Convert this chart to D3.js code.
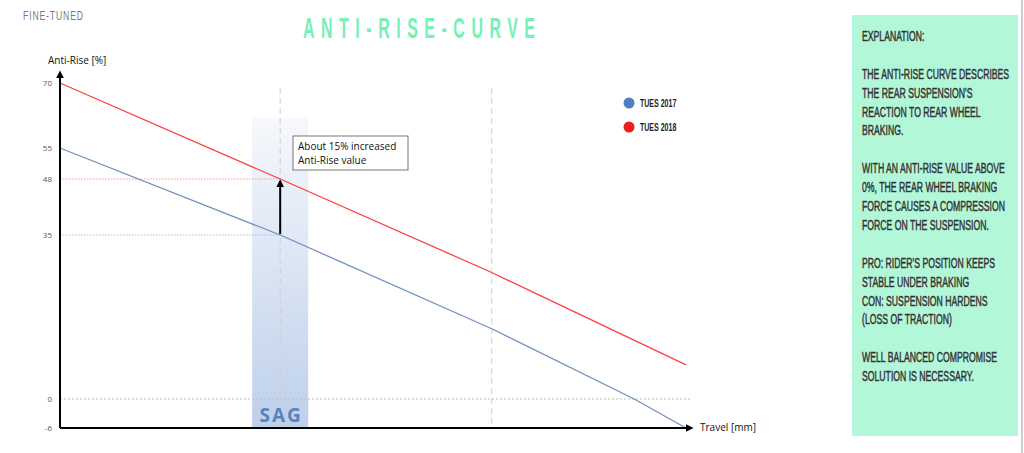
<!DOCTYPE html>
<html>
<head>
<meta charset="utf-8">
<style>
    body { margin: 0; background: #fff; }
    svg { display: block; }
    .cond { font-family: "Liberation Sans", Arial, sans-serif; }
    .plain { font-family: "Open Sans", "Liberation Sans", sans-serif; }
</style>
</head>
<body>
<svg id="chart" width="1024" height="453"></svg>

<script src="https://d3js.org/d3.v7.min.js"></script>
<script>
    // travel [mm] vs anti-rise [%]
    var travel2017 = [0, 51, 100, 133, 145],
        rise2017 = [55, 35, 15, 0, -6];
    var travel2018 = [0, 51, 100, 145],
        rise2018 = [70, 48, 27, 7.3];

    var yTicks = [70, 55, 48, 35, 0, -6];
    var sagTravel = 51, sagFrom = 44.5, sagTo = 57.5;
    var gridTravel = [51, 100];

    var seriesNames = ["TUES 2017", "TUES 2018"],
        seriesColors = ["#4e7fc1", "#ee1c1c"],
        lineColors = ["#7190c0", "#ff4040"];

    var explanation = [
        "EXPLANATION:",
        "",
        "THE ANTI-RISE CURVE DESCRIBES",
        "THE REAR SUSPENSION'S",
        "REACTION TO REAR WHEEL",
        "BRAKING.",
        "",
        "WITH AN ANTI-RISE VALUE ABOVE",
        "0%, THE REAR WHEEL BRAKING",
        "FORCE CAUSES A COMPRESSION",
        "FORCE ON THE SUSPENSION.",
        "",
        "PRO: RIDER'S POSITION KEEPS",
        "STABLE UNDER BRAKING",
        "CON: SUSPENSION HARDENS",
        "(LOSS OF TRACTION)",
        "",
        "WELL BALANCED COMPROMISE",
        "SOLUTION IS NECESSARY."
    ];

    var svg = d3.select("#chart");

    // no condensed font installed: squeeze a normal one horizontally
    function condensed(parent, px, py, k) {
        return parent.append("g")
            .attr("transform", "translate(" + px + "," + py + ") scale(" + k + ",1)");
    }

    // the original axis is not drawn to scale, so the y scale is piecewise
    var x = d3.scaleLinear().domain([0, 145]).range([60, 686]);
    var y = d3.scaleLinear()
        .domain([-6, 0, 35, 48, 55, 70])
        .range([428, 399, 235, 179, 148, 83]);

    var defs = svg.append("defs");
    var grad = defs.append("linearGradient")
        .attr("id", "sagGrad")
        .attr("x1", 0).attr("y1", 0).attr("x2", 0).attr("y2", 1);
    grad.append("stop").attr("offset", "0%").attr("stop-color", "#f6f8fc");
    grad.append("stop").attr("offset", "100%").attr("stop-color", "#bdd0ea");

    defs.append("marker")
        .attr("id", "arrow")
        .attr("viewBox", "0 -5 10 10")
        .attr("refX", 8)
        .attr("refY", 0)
        .attr("markerWidth", 4)
        .attr("markerHeight", 4)
        .attr("orient", "auto")
        .append("path")
        .attr("fill", "#000")
        .attr("d", "M0,-5L10,0L0,5");

    // header
    condensed(svg, 23, 20, 0.72).append("text")
        .attr("class", "cond")
        .attr("fill", "#7a7a7a")
        .attr("font-size", 12)
        .attr("textLength", 60 / 0.72)
        .attr("lengthAdjust", "spacing")
        .text("FINE-TUNED");

    condensed(svg, 303, 38, 0.55).append("text")
        .attr("class", "cond")
        .attr("fill", "#78efb8")
        .attr("font-size", 29)
        .attr("font-weight", "bold")
        .attr("textLength", 232 / 0.55)
        .attr("lengthAdjust", "spacing")
        .text("ANTI-RISE-CURVE");

    // sag band
    svg.append("rect")
        .attr("x", x(sagFrom))
        .attr("y", 118)
        .attr("width", x(sagTo) - x(sagFrom))
        .attr("height", y(-6) - 118)
        .attr("fill", "url(#sagGrad)");

    // vertical dashed guides
    svg.append("g").selectAll("line")
        .data(gridTravel)
        .join("line")
        .attr("x1", d => x(d)).attr("x2", d => x(d))
        .attr("y1", 88).attr("y2", y(-6))
        .attr("stroke", "#cfcfcf")
        .attr("stroke-dasharray", "6,4");

    // zero line
    svg.append("line")
        .attr("x1", x(0)).attr("x2", 690)
        .attr("y1", y(0)).attr("y2", y(0))
        .attr("stroke", "#bdbdbd")
        .attr("stroke-dasharray", "2,2");

    // value guides at sag
    var guides = [{v: 48, c: "#f39a9a"}, {v: 35, c: "#a9bee4"}];
    svg.append("g").selectAll("line")
        .data(guides)
        .join("line")
        .attr("x1", x(0)).attr("x2", x(sagTravel))
        .attr("y1", d => y(d.v)).attr("y2", d => y(d.v))
        .attr("stroke", d => d.c)
        .attr("stroke-dasharray", "1.5,1.5");

    svg.append("text")
        .attr("class", "plain")
        .attr("x", x(sagTravel) + 1).attr("y", 422)
        .attr("text-anchor", "middle")
        .attr("fill", "#5a82bd")
        .attr("font-size", 19)
        .attr("font-weight", "bold")
        .attr("letter-spacing", 2)
        .text("SAG");

    // curves
    var line = d3.line().x(d => x(d[0])).y(d => y(d[1]));
    var series = [
        d3.zip(travel2017, rise2017),
        d3.zip(travel2018, rise2018)
    ];
    svg.append("g").selectAll("path")
        .data(series)
        .join("path")
        .attr("d", line)
        .attr("fill", "none")
        .attr("stroke", (d, i) => lineColors[i])
        .attr("stroke-width", 1.3);

    // axes
    svg.append("line")
        .attr("x1", x(0)).attr("y1", y(-6))
        .attr("x2", 692).attr("y2", y(-6))
        .attr("stroke", "#000").attr("stroke-width", 2)
        .attr("marker-end", "url(#arrow)");
    svg.append("line")
        .attr("x1", x(0)).attr("y1", y(-6))
        .attr("x2", x(0)).attr("y2", 72)
        .attr("stroke", "#000").attr("stroke-width", 2)
        .attr("marker-end", "url(#arrow)");

    svg.append("g").selectAll("text")
        .data(yTicks)
        .join("text")
        .attr("class", "plain")
        .attr("x", 52)
        .attr("y", d => y(d) + 3)
        .attr("text-anchor", "end")
        .attr("fill", "#555")
        .attr("font-size", 8)
        .text(d => d);

    svg.append("text")
        .attr("class", "plain")
        .attr("x", 48).attr("y", 64)
        .attr("font-size", 10)
        .attr("fill", "#111")
        .text("Anti-Rise [%]");
    svg.append("text")
        .attr("class", "plain")
        .attr("x", 700).attr("y", 431)
        .attr("font-size", 10)
        .attr("fill", "#111")
        .text("Travel [mm]");

    // increase arrow
    svg.append("line")
        .attr("x1", x(sagTravel)).attr("y1", y(35) - 1)
        .attr("x2", x(sagTravel)).attr("y2", y(48) + 2)
        .attr("stroke", "#000").attr("stroke-width", 2)
        .attr("marker-end", "url(#arrow)");

    var note = svg.append("g").attr("transform", "translate(293,136)");
    note.append("rect")
        .attr("width", 115).attr("height", 34)
        .attr("fill", "#fff")
        .attr("stroke", "#555").attr("stroke-width", 0.8);
    note.selectAll("text")
        .data(["About 15% increased", "Anti-Rise value"])
        .join("text")
        .attr("class", "plain")
        .attr("x", 5)
        .attr("y", (d, i) => 14 + i * 14)
        .attr("font-size", 10)
        .attr("fill", "#111")
        .text(d => d);

    // legend
    var legend = svg.append("g").selectAll("g")
        .data(seriesNames)
        .join("g")
        .attr("transform", (d, i) => "translate(629," + (103 + i * 24) + ")");
    legend.append("circle")
        .attr("r", 5.5)
        .attr("fill", (d, i) => seriesColors[i]);
    legend.append("g")
        .attr("transform", "translate(11,4) scale(0.64,1)")
        .append("text")
        .attr("class", "cond")
        .attr("font-size", 11)
        .attr("font-weight", "bold")
        .attr("fill", "#222")
        .text(d => d);

    // explanation panel
    svg.append("rect")
        .attr("x", 852).attr("y", 15)
        .attr("width", 166).attr("height", 421)
        .attr("fill", "#b3f7d9");
    svg.append("line")
        .attr("x1", 1022).attr("x2", 1022)
        .attr("y1", 0).attr("y2", 453)
        .attr("stroke", "#999");
    condensed(svg, 862, 0, 0.62).selectAll("text")
        .data(explanation)
        .join("text")
        .attr("class", "cond")
        .attr("y", (d, i) => 41 + i * 18.9)
        .attr("font-size", 14)
        .attr("fill", "#333")
        .attr("stroke", "#333")
        .attr("stroke-width", 0.45)
        .text(d => d);
</script>
</body>
</html>
